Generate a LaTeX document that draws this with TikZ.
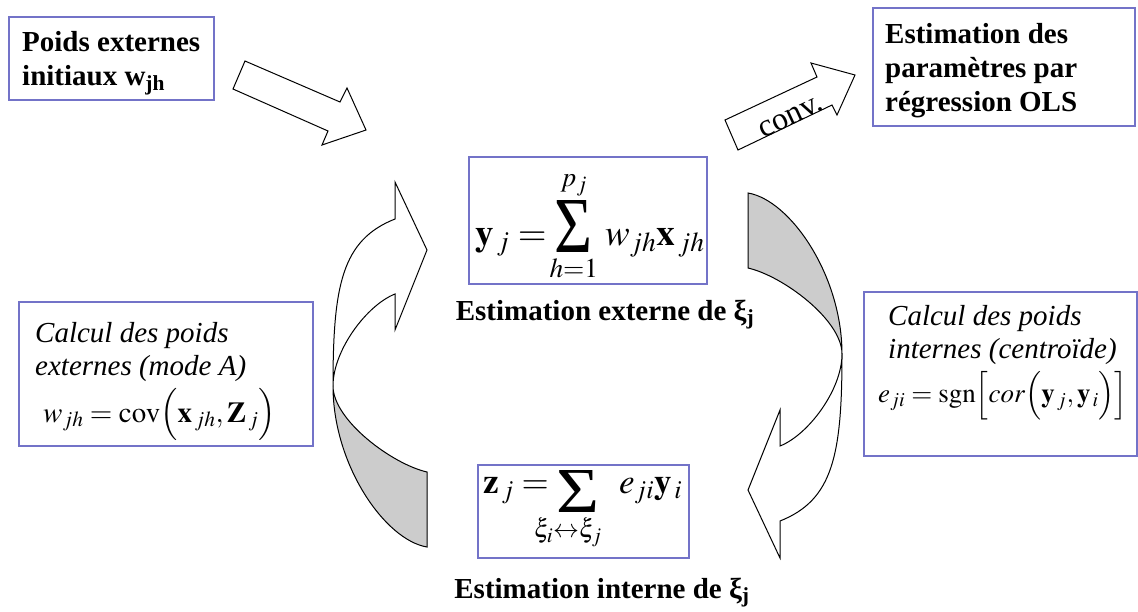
\documentclass[tikz,border=0pt]{standalone}
\usepackage{mathptmx}
\usepackage{fontspec}
\setmainfont{Liberation Serif}
\definecolor{boxc}{RGB}{115,115,200}
\definecolor{backc}{RGB}{204,204,204}
\newcommand\SigC{\mathop{\raisebox{-7pt}{\resizebox{38pt}{52pt}{\normalfont Σ}}}\limits}
\newcommand\SigF{\mathop{\raisebox{-19pt}{\resizebox{43pt}{42pt}{\normalfont Σ}}}\limits}
\newcommand\ZeroLim[1]{\makebox[0pt]{$\scriptstyle #1$}}
\tikzset{
  boxnode/.style={draw=boxc, line width=1.5pt, rectangle, anchor=north west, inner sep=0pt, fill=white},
  boldtext/.style={font=\fontsize{29}{34}\selectfont\bfseries, inner sep=0pt, align=left, anchor=north west},
  ittext/.style={font=\fontsize{29}{33}\selectfont\itshape, inner sep=0pt, align=left, anchor=north west},
  labeltext/.style={font=\fontsize{29}{34}\selectfont\bfseries, inner sep=0pt, anchor=base},
  formula/.style={inner sep=0pt},
  blockarrow/.style={draw=black, line width=1pt, fill=white, line join=miter},
  backside/.style={draw=black, line width=1pt, fill=backc},
  curvarrow/.pic={
    \coordinate (-T) at (333,386);
    \coordinate (-A) at (427,547);
    \coordinate (-C) at (427,472);
    \coordinate (-B) at (395,219);
    \coordinate (-D) at (395,294);
    \coordinate (-UB) at (395,182);
    \coordinate (-TIP) at (427,250);
    \coordinate (-LB) at (395,330);
    \path[backside] (-T) .. controls (333,465) and (385,540) .. (-A) -- (-C)
        .. controls (392,464) and (333,420) .. (-T) -- cycle;
    \path[blockarrow] (-T) .. controls (333,285) and (342,240) .. (-B) -- (-UB) -- (-TIP) -- (-LB) -- (-D)
        .. controls (367,305) and (333,350) .. (-T) -- cycle;
  }
}
\begin{document}
\begin{tikzpicture}[x=1pt,y=-1pt]
\useasboundingbox (0,0) rectangle (1138,611);
\fill[white] (0,0) rectangle (1138,611);

% curved arrows
\pic (la) at (0,0) {curvarrow};
\pic[rotate=180] (ra) at (1175,740) {curvarrow};

% straight block arrows
\path[blockarrow] (245,61) -- (340,102) -- (347,88) -- (366,130) -- (322,145) -- (328,131) -- (233,89) -- cycle;
\path[blockarrow] (725,120) -- (817,77) -- (811,63) -- (855,75) -- (837,115) -- (832,105) -- (738,150) -- cycle;
\node[rotate=25, font=\fontsize{32}{32}\selectfont, inner sep=0pt] (conv) at (791,117) {conv.};

% boxes
\node[boxnode, minimum width=205pt, minimum height=83pt] (boxA) at (8,16) {};
\node[boxnode, minimum width=262pt, minimum height=118pt] (boxB) at (872,7) {};
\node[boxnode, minimum width=238pt, minimum height=127pt] (boxC) at (468,156) {};
\node[boxnode, minimum width=294pt, minimum height=144pt] (boxD) at (18,301) {};
\node[boxnode, minimum width=273pt, minimum height=164pt] (boxE) at (863,291) {};
\node[boxnode, minimum width=211pt, minimum height=93pt] (boxF) at (477,464) {};

% box texts
\node[boldtext] (tA) at (22,27.2) {\strut Poids externes\\initiaux w\textsubscript{jh}};
\node[boldtext] (tB) at (885,19) {\strut Estimation des\\paramètres par\\régression OLS};
\node[ittext] (tD) at (35,318.9) {\strut Calcul des poids\\externes (mode A)};
\node[ittext] (tE) at (888,301.9) {\strut Calcul des poids\\internes (centroïde)};

% formulas
\node[formula, anchor=base west, font=\fontsize{37}{43}\selectfont] (fC) at (475,245)
  {$\displaystyle \mathbf{y}_{\,j} = \SigC_{\ZeroLim{h=1}}^{\ZeroLim{p_j}} \mkern4mu w_{jh}\mathbf{x}_{\,jh}$};
\node[formula, anchor=base west, font=\fontsize{35}{41}\selectfont] (fF) at (483,493)
  {$\displaystyle \mathbf{z}_{\,j} = \SigF_{\hbox to 0pt{\kern-21.5pt$\scriptstyle\xi_i\leftrightarrow\xi_j$\hss}} \mkern8mu e_{ji}\mathbf{y}_{\,i}$};
\node[formula, anchor=base west, font=\fontsize{29}{33}\selectfont] (fD) at (43,422)
  {$w_{jh} = \mathrm{cov}\Bigl(\mathbf{x}_{\,jh},\mathbf{Z}_{\,j}\Bigr)$};
\node[formula, anchor=base west, font=\fontsize{27}{31}\selectfont] (fE) at (878,402)
  {$e_{ji} = \mathrm{sgn}\Bigl[\mathit{cor}\Bigl(\mathbf{y}_{\,j},\mathbf{y}_{\,i}\Bigr)\Bigr]$};

% labels
\node[labeltext] (lC) at (605,320) {Estimation externe de ξ\textsubscript{j}};
\node[labeltext] (lF) at (602,598) {Estimation interne de ξ\textsubscript{j}};
\end{tikzpicture}
\end{document}
